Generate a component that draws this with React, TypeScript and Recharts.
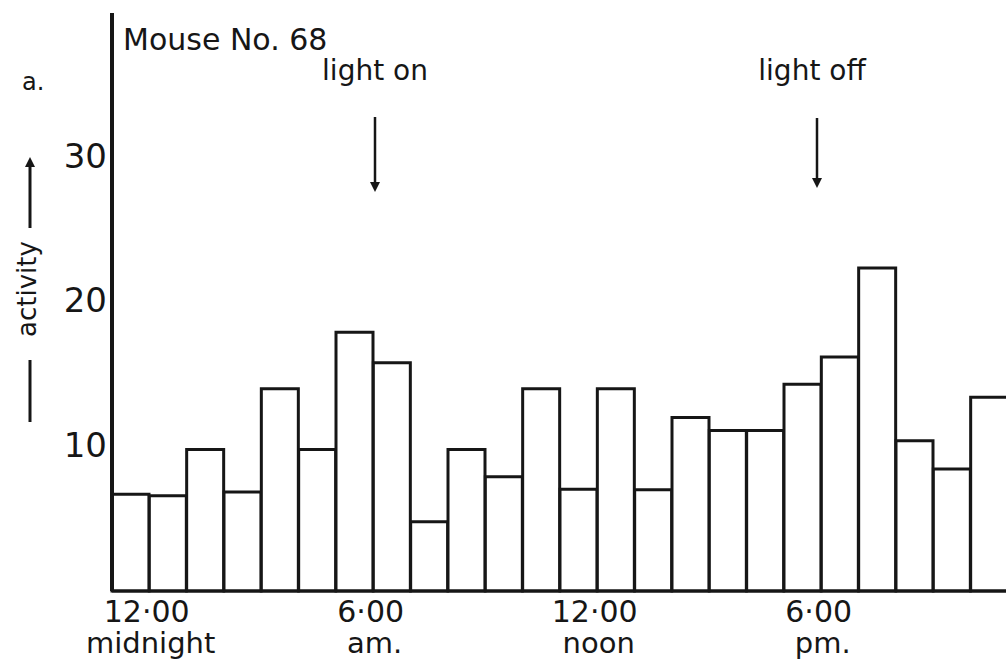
import { BarChart, Bar, XAxis, YAxis } from 'recharts';

// hourly activity, mouse no. 68
const hours = [0, 1, 2, 3, 4, 5, 6, 7, 8, 9, 10, 11, 12, 13, 14, 15, 16, 17, 18, 19, 20, 21, 22, 23];
const activity = [
  6.7, 6.6, 9.8, 6.85, 14.0, 9.8, 17.9, 15.8, 4.8, 9.8, 7.9, 14.0,
  7.05, 14.0, 7.0, 12.0, 11.1, 11.1, 14.3, 16.2, 22.35, 10.4, 8.45, 13.4,
];
const yTicks = [10, 20, 30];
const tickHours = [0, 6, 12, 18];
const tickTimes = ['12·00', '6·00', '12·00', '6·00'];
const tickPeriods = ['midnight', 'am.', 'noon', 'pm.'];

const data = hours.map((h, i) => ({ hour: h, activity: activity[i] }));

const ink = '#161616';
const font = '"DejaVu Sans", sans-serif';

function HourTick(props: any) {
  const { x, y, payload } = props;
  const k = tickHours.indexOf(payload.value);
  if (k < 0) return null;
  return (
    <g>
      <text x={x + 16} y={y + 31} textAnchor="middle" fontSize={30} fill={ink} fontFamily={font}>
        {tickTimes[k]}
      </text>
      <text x={x + 20} y={y + 62} textAnchor="middle" fontSize={29} fill={ink} fontFamily={font}>
        {tickPeriods[k]}
      </text>
    </g>
  );
}

function ValueTick(props: any) {
  const { x, y, payload } = props;
  return (
    <text x={x} y={y + 10} textAnchor="end" fontSize={34} fill={ink} fontFamily={font}>
      {payload.value}
    </text>
  );
}

function ActivityLabel() {
  return (
    <g>
      <line x1={30} y1={228} x2={30} y2={164} stroke={ink} strokeWidth={3} />
      <polygon points="30,157 25,167 35,167" fill={ink} />
      <text
        x={27}
        y={289}
        transform="rotate(-90 27 289)"
        textAnchor="middle"
        dominantBaseline="central"
        fontSize={26}
        fill={ink}
        fontFamily={font}
      >
        activity
      </text>
      <line x1={30} y1={360} x2={30} y2={422} stroke={ink} strokeWidth={3} />
    </g>
  );
}

function Arrow({ x, y1, y2 }: { x: number; y1: number; y2: number }) {
  return (
    <g>
      <line x1={x} y1={y1} x2={x} y2={y2 - 8} stroke={ink} strokeWidth={2.5} />
      <polygon points={`${x - 5},${y2 - 10} ${x + 5},${y2 - 10} ${x},${y2}`} fill={ink} />
    </g>
  );
}

export default function App() {
  return (
    <div
      style={{
        position: 'fixed',
        left: 0,
        top: 0,
        width: 1006,
        height: 668,
        overflow: 'hidden',
        background: '#fff',
      }}
    >
      <BarChart
        width={1008}
        height={668}
        data={data}
        margin={{ top: 13, right: 0, bottom: 0, left: 0 }}
        barCategoryGap={0}
        barGap={0}
      >
        <XAxis
          dataKey="hour"
          interval={0}
          height={77}
          tick={<HourTick />}
          tickLine={false}
          tickSize={0}
          tickMargin={0}
          axisLine={{ stroke: ink, strokeWidth: 3 }}
        />
        <YAxis
          width={112}
          domain={[0, 40]}
          ticks={yTicks}
          tick={<ValueTick />}
          tickLine={false}
          tickSize={0}
          tickMargin={5}
          axisLine={{ stroke: ink, strokeWidth: 4 }}
          label={<ActivityLabel />}
        />
        <Bar
          dataKey="activity"
          fill="#fff"
          stroke={ink}
          strokeWidth={3}
          isAnimationActive={false}
        />
      </BarChart>
      <svg
        width={1006}
        height={668}
        style={{ position: 'absolute', left: 0, top: 0, pointerEvents: 'none' }}
      >
        <text x={22} y={90} fontSize={24} fill={ink} fontFamily={font}>
          a.
        </text>
        <text x={123} y={50} fontSize={30} fill={ink} fontFamily={font}>
          Mouse No. 68
        </text>
        <text x={375} y={80} textAnchor="middle" fontSize={28} fill={ink} fontFamily={font}>
          light on
        </text>
        <text x={812} y={80} textAnchor="middle" fontSize={28} fill={ink} fontFamily={font}>
          light off
        </text>
        <Arrow x={375} y1={117} y2={192} />
        <Arrow x={817} y1={118} y2={188} />
      </svg>
    </div>
  );
}
